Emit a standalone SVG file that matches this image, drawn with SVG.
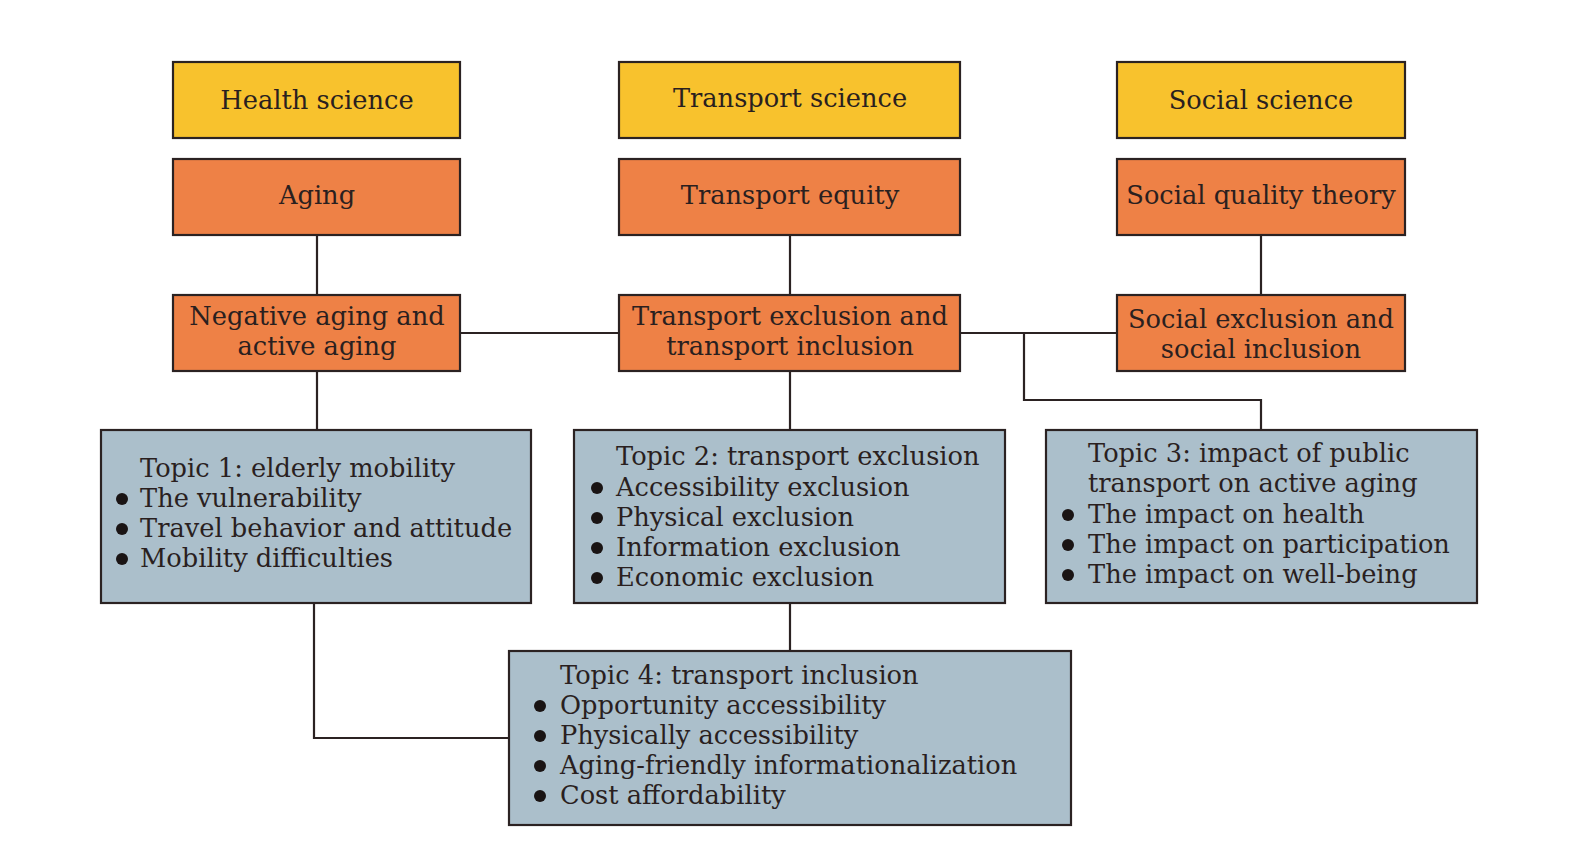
<svg xmlns="http://www.w3.org/2000/svg" width="1586" height="842" viewBox="0 0 1586 842">
<style>
.b{stroke:#2b2222;stroke-width:2.2}
.y{fill:#F8C22D}
.o{fill:#EE8146}
.g{fill:#ABBFCB}
text{font-family:"DejaVu Serif","Liberation Serif",serif;font-size:25.7px;fill:#2a1f1f}
.c{text-anchor:middle}
.ln{fill:none;stroke:#2b2222;stroke-width:2.2}
.d{fill:#1a1414}
</style>
<rect width="1586" height="842" fill="#ffffff"/>
<g id="connectors">
<path class="ln" d="M317 235V295M790 235V295M1261 235V295M460 333H619M960 333H1117M1024 333V400H1261V430M317 371V430M790 371V430M790 603V651M314 603V738H509"/>
</g>
<g id="health-science"><rect class="b y" x="173" y="62" width="287" height="76"/><text class="c" x="317" y="109">Health science</text></g>
<g id="transport-science"><rect class="b y" x="619" y="62" width="341" height="76"/><text class="c" x="790" y="107">Transport science</text></g>
<g id="social-science"><rect class="b y" x="1117" y="62" width="288" height="76"/><text class="c" x="1261" y="109">Social science</text></g>
<g id="aging"><rect class="b o" x="173" y="159" width="287" height="76"/><text class="c" x="317" y="204">Aging</text></g>
<g id="transport-equity"><rect class="b o" x="619" y="159" width="341" height="76"/><text class="c" x="790" y="204">Transport equity</text></g>
<g id="social-quality"><rect class="b o" x="1117" y="159" width="288" height="76"/><text class="c" x="1261" y="204">Social quality theory</text></g>
<g id="negative-aging"><rect class="b o" x="173" y="295" width="287" height="76"/><text class="c" x="317" y="325">Negative aging and</text><text class="c" x="317" y="355">active aging</text></g>
<g id="transport-exclusion"><rect class="b o" x="619" y="295" width="341" height="76"/><text class="c" x="790" y="325">Transport exclusion and</text><text class="c" x="790" y="355">transport inclusion</text></g>
<g id="social-exclusion"><rect class="b o" x="1117" y="295" width="288" height="76"/><text class="c" x="1261" y="328">Social exclusion and</text><text class="c" x="1261" y="358">social inclusion</text></g>
<g id="topic1"><rect class="b g" x="101" y="430" width="430" height="173"/>
<text x="140" y="477">Topic 1: elderly mobility</text>
<circle class="d" cx="122" cy="499" r="6"/><text x="140" y="507">The vulnerability</text>
<circle class="d" cx="122" cy="529" r="6"/><text x="140" y="537">Travel behavior and attitude</text>
<circle class="d" cx="122" cy="559" r="6"/><text x="140" y="567">Mobility difficulties</text></g>
<g id="topic2"><rect class="b g" x="574" y="430" width="431" height="173"/>
<text x="616" y="465">Topic 2: transport exclusion</text>
<circle class="d" cx="597" cy="488" r="6"/><text x="616" y="496">Accessibility exclusion</text>
<circle class="d" cx="597" cy="518" r="6"/><text x="616" y="526">Physical exclusion</text>
<circle class="d" cx="597" cy="548" r="6"/><text x="616" y="556">Information exclusion</text>
<circle class="d" cx="597" cy="578" r="6"/><text x="616" y="586">Economic exclusion</text></g>
<g id="topic3"><rect class="b g" x="1046" y="430" width="431" height="173"/>
<text x="1088" y="462">Topic 3: impact of public</text>
<text x="1088" y="492">transport on active aging</text>
<circle class="d" cx="1068" cy="515" r="6"/><text x="1088" y="523">The impact on health</text>
<circle class="d" cx="1068" cy="545" r="6"/><text x="1088" y="553">The impact on participation</text>
<circle class="d" cx="1068" cy="575" r="6"/><text x="1088" y="583">The impact on well-being</text></g>
<g id="topic4"><rect class="b g" x="509" y="651" width="562" height="174"/>
<text x="560" y="684">Topic 4: transport inclusion</text>
<circle class="d" cx="540" cy="706" r="6"/><text x="560" y="714">Opportunity accessibility</text>
<circle class="d" cx="540" cy="736" r="6"/><text x="560" y="744">Physically accessibility</text>
<circle class="d" cx="540" cy="766" r="6"/><text x="560" y="774">Aging-friendly informationalization</text>
<circle class="d" cx="540" cy="796" r="6"/><text x="560" y="804">Cost affordability</text></g>
</svg>
